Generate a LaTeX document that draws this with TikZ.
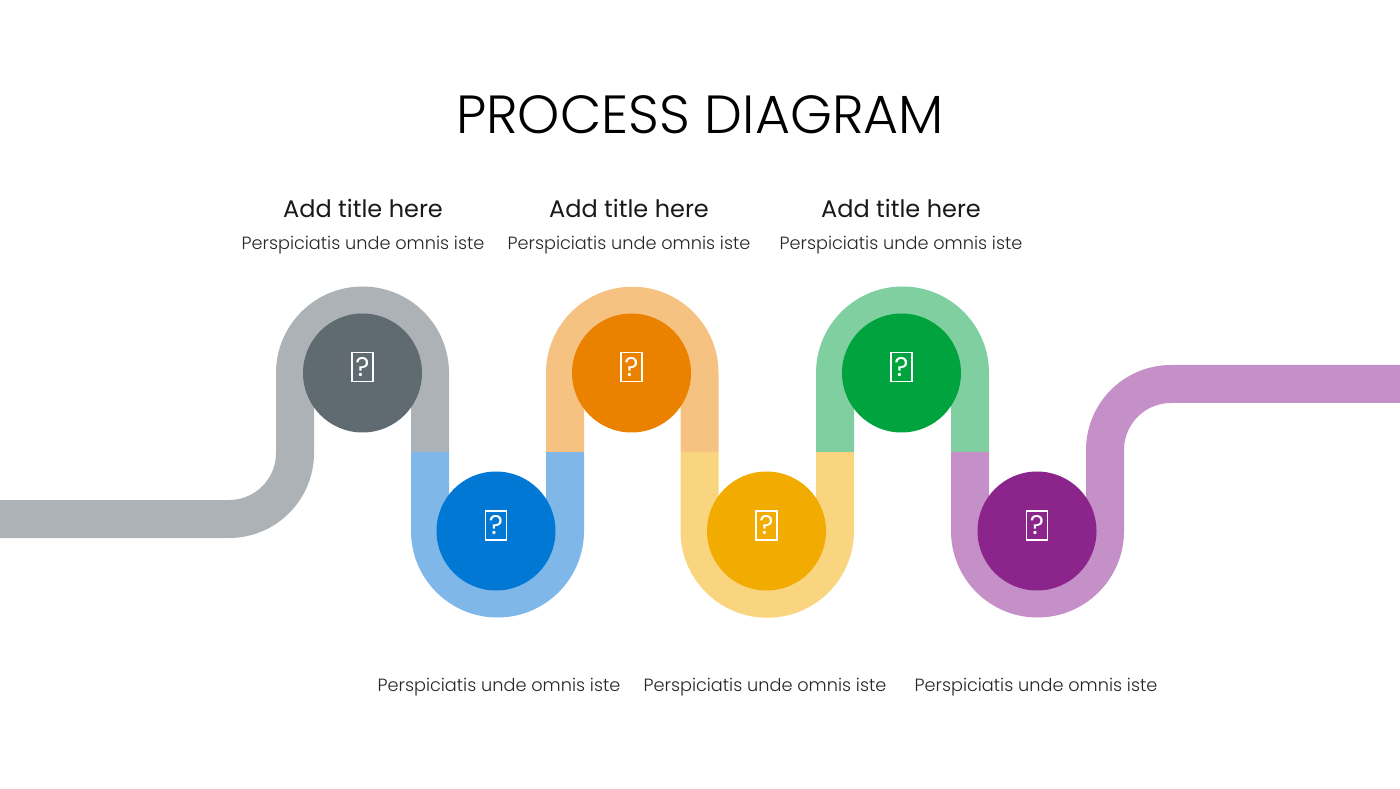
\documentclass[tikz,border=0pt]{standalone}
\usepackage{fontspec}
\setmainfont{Poppins}[UprightFont=* Light]
\newfontfamily\iconfont{Poppins}
\usetikzlibrary{positioning}
\definecolor{grayLight}{HTML}{ACB2B6}
\definecolor{grayDark}{HTML}{5F6B71}
\definecolor{blueLight}{HTML}{7FB7E8}
\definecolor{blueDark}{HTML}{0078D4}
\definecolor{orangeLight}{HTML}{F5C281}
\definecolor{orangeDark}{HTML}{EA8200}
\definecolor{yellowLight}{HTML}{F8D57E}
\definecolor{yellowDark}{HTML}{F2AB00}
\definecolor{greenLight}{HTML}{80CFA0}
\definecolor{greenDark}{HTML}{00A33E}
\definecolor{purpleLight}{HTML}{C58FC7}
\definecolor{purpleDark}{HTML}{8B258C}
\tikzset{x=1pt, y=1pt,
      ribbon/.style={ % One coloured stretch of the road
      line width=38pt,
      line cap=butt},
      stop/.style={ % Sets the properties for each dark circle
      circle,
      minimum size=119pt,
      inner sep=0pt},
      icon/.style={ % Small white box with the question mark
      draw=white,
      line width=1.7pt,
      minimum width=21pt,
      minimum height=29pt,
      inner sep=0pt,
      text=white,
      font=\iconfont\fontsize{27}{27}\selectfont},
      heading/.style={ % Title of each step
      font=\iconfont\fontsize{24}{24}\selectfont,
      text=black!90},
      blurb/.style={ % Line of text of each step
      font=\fontsize{17.7}{17.7}\selectfont,
      text=black!85}}

\begin{document}
\begin{tikzpicture}
      \useasboundingbox (0,0) rectangle (1400,788);
      \node[font=\fontsize{53.7}{53.7}\selectfont, text=black] (title) at (700,673) {PROCESS DIAGRAM};
      % junctions of the road
      \coordinate (start) at (0,269);
      \coordinate (ab) at (430,336);
      \coordinate (bc) at (565,336);
      \coordinate (cd) at (699.5,336);
      \coordinate (de) at (835,336);
      \coordinate (ef) at (970,336);
      \coordinate (end) at (1400,404);
      % the road
      \draw[ribbon, grayLight] (start) -- (229,269) arc[start angle=-90, end angle=0, radius=66] -- (295,415) arc[start angle=180, end angle=0, radius=67.5] -- (ab);
      \draw[ribbon, blueLight] (ab) -- (430,257) arc[start angle=180, end angle=360, radius=67.5] -- (bc);
      \draw[ribbon, orangeLight] (bc) -- (565,415) arc[start angle=180, end angle=0, radius=67.25] -- (cd);
      \draw[ribbon, yellowLight] (cd) -- (699.5,257) arc[start angle=180, end angle=360, radius=67.75] -- (de);
      \draw[ribbon, greenLight] (de) -- (835,415) arc[start angle=180, end angle=0, radius=67.5] -- (ef);
      \draw[ribbon, purpleLight] (ef) -- (970,257) arc[start angle=180, end angle=360, radius=67.5] -- (1105,338) arc[start angle=180, end angle=90, radius=66] -- (end);
      % circles
      \node[stop, fill=grayDark] (stopA) at (362.5,415) {};
      \node[stop, fill=blueDark] (stopB) at (496,257) {};
      \node[stop, fill=orangeDark] (stopC) at (631.5,415) {};
      \node[stop, fill=yellowDark] (stopD) at (766.5,257) {};
      \node[stop, fill=greenDark] (stopE) at (901.5,415) {};
      \node[stop, fill=purpleDark] (stopF) at (1037,257) {};
      % icons
      \node[icon, above=-9.5pt of stopA.center] (iconA) {?};
      \node[icon, above=-9.5pt of stopB.center] (iconB) {?};
      \node[icon, above=-9.5pt of stopC.center] (iconC) {?};
      \node[icon, above=-9.5pt of stopD.center] (iconD) {?};
      \node[icon, above=-9.5pt of stopE.center] (iconE) {?};
      \node[icon, above=-9.5pt of stopF.center] (iconF) {?};
      % texts
      \node[heading] (headA) at (363,580) {Add title here};
      \node[blurb] (textA) at (363,543) {Perspiciatis unde omnis iste};
      \node[heading] (headC) at (629,580) {Add title here};
      \node[blurb] (textC) at (629,543) {Perspiciatis unde omnis iste};
      \node[heading] (headE) at (901,580) {Add title here};
      \node[blurb] (textE) at (901,543) {Perspiciatis unde omnis iste};
      \node[blurb] (textB) at (499,101) {Perspiciatis unde omnis iste};
      \node[blurb] (textD) at (765,101) {Perspiciatis unde omnis iste};
      \node[blurb] (textF) at (1036,101) {Perspiciatis unde omnis iste};
\end{tikzpicture}
\end{document}
